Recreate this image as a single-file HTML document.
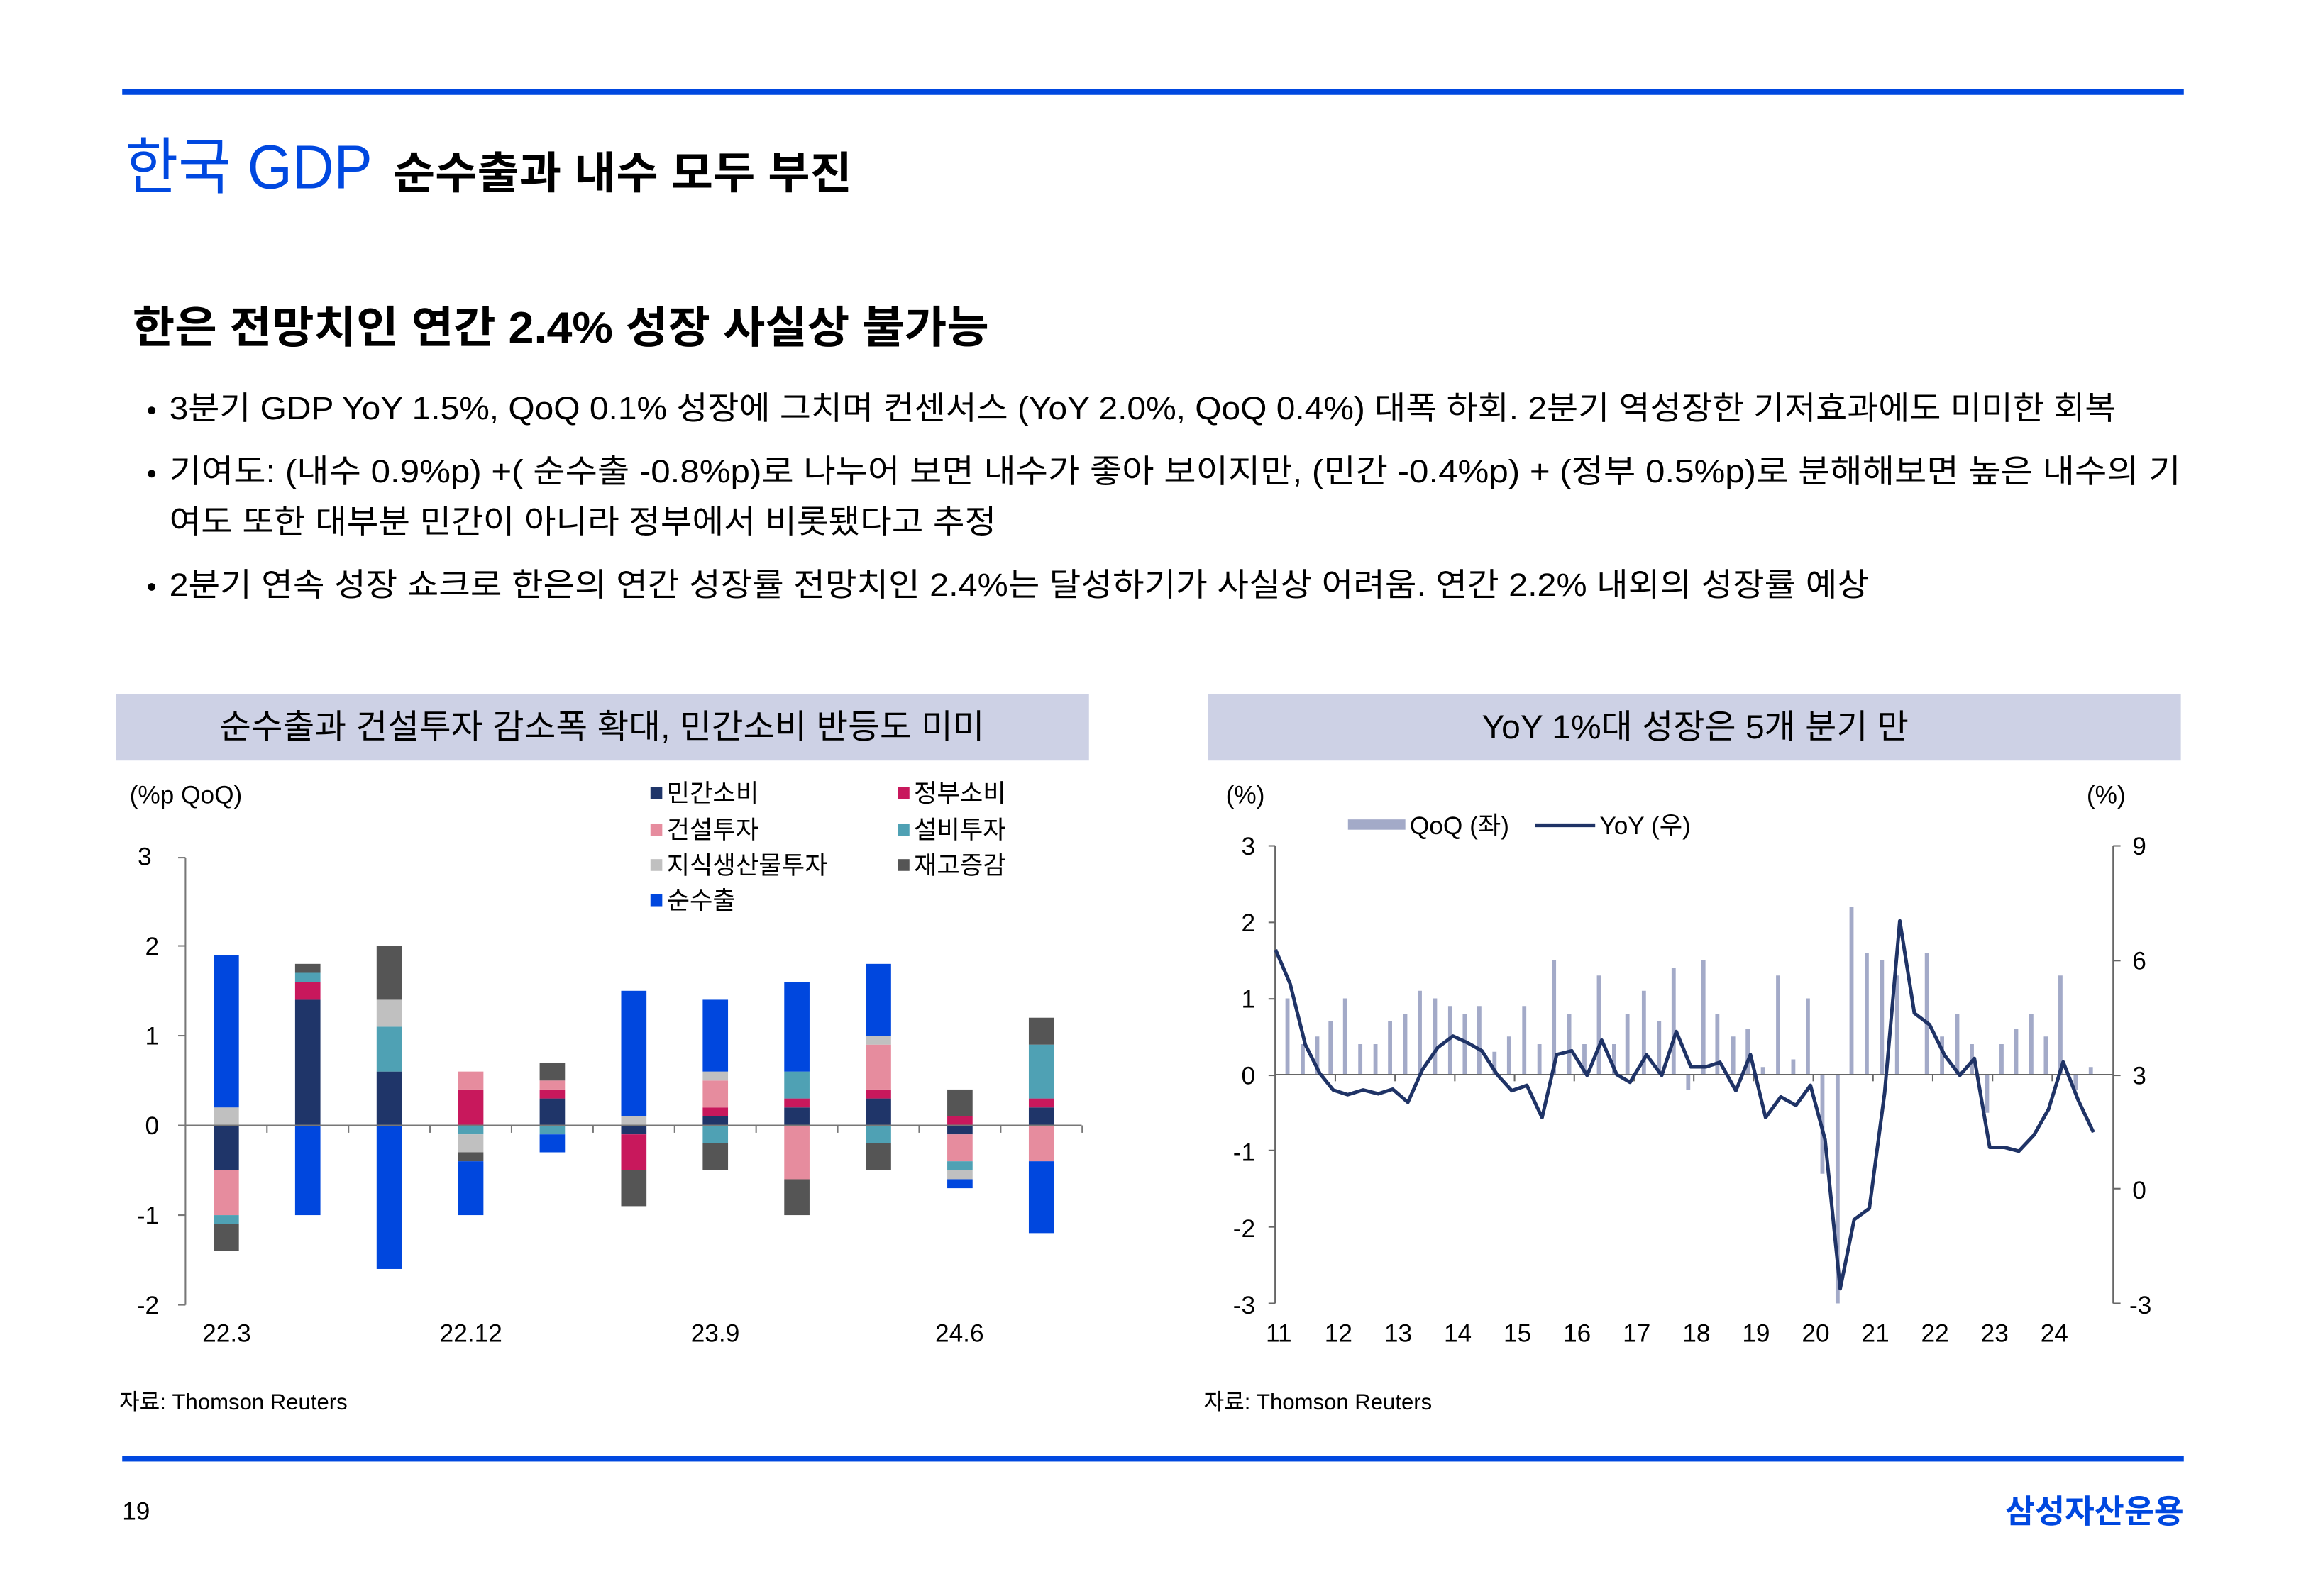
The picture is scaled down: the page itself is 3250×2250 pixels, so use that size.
<!DOCTYPE html>
<html><head><meta charset="utf-8"><style>
html,body{margin:0;padding:0;background:#fff;}
svg{display:block;}
text{font-family:"Liberation Sans","Noto Sans CJK KR",sans-serif;}
</style></head><body>
<svg id="s" width="3250" height="2250" viewBox="0 0 1567 1084.9" xmlns="http://www.w3.org/2000/svg">
<rect x="0" y="0" width="1567" height="1084.9" fill="#fff"/>
<rect x="83" y="60.5" width="1401" height="4" fill="#0048e0"/>
<text x="85" y="128" font-size="42" fill="#0048e0" textLength="168" lengthAdjust="spacingAndGlyphs">한국 GDP</text>
<text x="267" y="128" font-size="30" font-weight="bold" fill="#000" textLength="312" lengthAdjust="spacingAndGlyphs">순수출과 내수 모두 부진</text>
<text x="90" y="233" font-size="30" font-weight="bold" fill="#000" textLength="582" lengthAdjust="spacingAndGlyphs">한은 전망치인 연간 2.4% 성장 사실상 불가능</text>
<g font-size="22" fill="#000">
<circle cx="103" cy="279" r="2.6"/>
<text x="115" y="285" textLength="1323" lengthAdjust="spacingAndGlyphs">3분기 GDP YoY 1.5%, QoQ 0.1% 성장에 그치며 컨센서스 (YoY 2.0%, QoQ 0.4%) 대폭 하회. 2분기 역성장한 기저효과에도 미미한 회복</text>
<circle cx="103" cy="322" r="2.6"/>
<text x="115" y="328" textLength="1367" lengthAdjust="spacingAndGlyphs">기여도: (내수 0.9%p) +( 순수출 -0.8%p)로 나누어 보면 내수가 좋아 보이지만, (민간 -0.4%p) + (정부 0.5%p)로 분해해보면 높은 내수의 기</text>
<text x="115" y="362" textLength="562" lengthAdjust="spacingAndGlyphs">여도 또한 대부분 민간이 아니라 정부에서 비롯됐다고 추정</text>
<circle cx="103" cy="399" r="2.6"/>
<text x="115" y="405" textLength="1155" lengthAdjust="spacingAndGlyphs">2분기 연속 성장 쇼크로 한은의 연간 성장률 전망치인 2.4%는 달성하기가 사실상 어려움. 연간 2.2% 내외의 성장률 예상</text>
</g>
<rect x="79" y="472" width="661" height="45" fill="#cdd1e5"/>
<rect x="821" y="472" width="661" height="45" fill="#cdd1e5"/>
<text x="149" y="502" font-size="23" textLength="520" lengthAdjust="spacingAndGlyphs">순수출과 건설투자 감소폭 확대, 민간소비 반등도 미미</text>
<text x="1007" y="502" font-size="23" textLength="290" lengthAdjust="spacingAndGlyphs">YoY 1%대 성장은 5개 분기 만</text>

<g font-size="17" fill="#000">
<text x="88" y="546">(%p QoQ)</text>
<text x="103" y="588" text-anchor="end">3</text>
<text x="108" y="649" text-anchor="end">2</text>
<text x="108" y="710" text-anchor="end">1</text>
<text x="108" y="771" text-anchor="end">0</text>
<text x="108" y="832" text-anchor="end">-1</text>
<text x="108" y="893" text-anchor="end">-2</text>
<text x="154" y="912" text-anchor="middle">22.3</text>
<text x="320" y="912" text-anchor="middle">22.12</text>
<text x="486" y="912" text-anchor="middle">23.9</text>
<text x="652" y="912" text-anchor="middle">24.6</text>
</g>
<g font-size="17">
<rect x="442" y="535" width="8" height="8" fill="#1f3569"/><text x="453" y="545">민간소비</text>
<rect x="610" y="535" width="8" height="8" fill="#c8185c"/><text x="621" y="545">정부소비</text>
<rect x="442" y="560" width="8" height="8" fill="#e68c9e"/><text x="453" y="570">건설투자</text>
<rect x="610" y="560" width="8" height="8" fill="#4fa1b4"/><text x="621" y="570">설비투자</text>
<rect x="442" y="584" width="8" height="8" fill="#c0c0c0"/><text x="453" y="594">지식생산물투자</text>
<rect x="610" y="584" width="8" height="8" fill="#555"/><text x="621" y="594">재고증감</text>
<rect x="442" y="608" width="8" height="8" fill="#0047de"/><text x="453" y="618">순수출</text>
</g>
<g id="L"></g>
<g font-size="17" fill="#000">
<text x="833" y="546">(%)</text>
<text x="1418" y="546">(%)</text>
<text x="853" y="581" text-anchor="end">3</text>
<text x="853" y="633" text-anchor="end">2</text>
<text x="853" y="685" text-anchor="end">1</text>
<text x="853" y="737" text-anchor="end">0</text>
<text x="853" y="789" text-anchor="end">-1</text>
<text x="853" y="841" text-anchor="end">-2</text>
<text x="853" y="893" text-anchor="end">-3</text>
<text x="1449" y="581">9</text>
<text x="1449" y="659">6</text>
<text x="1449" y="737">3</text>
<text x="1449" y="815">0</text>
<text x="1447" y="893">-3</text>
</g>
<rect x="916" y="557" width="39" height="7" fill="#a3aac8"/>
<text x="958" y="567" font-size="17">QoQ (좌)</text>
<line x1="1043" y1="561" x2="1084" y2="561" stroke="#1f3366" stroke-width="2.5"/>
<text x="1087" y="567" font-size="17">YoY (우)</text>
<g id="R"></g>
<g font-size="17" text-anchor="middle" id="RX"></g>

<g font-size="15">
<text x="81" y="958">자료:  Thomson Reuters</text>
<text x="818" y="958">자료:  Thomson Reuters</text>
</g>
<rect x="83" y="989.5" width="1401" height="4" fill="#0048e0"/>
<text x="83" y="1033" font-size="17">19</text>
<text x="1484" y="1035" font-size="22" font-weight="bold" fill="#0048e0" text-anchor="end">삼성자산운용</text>
</svg>
<script>
var NS="http://www.w3.org/2000/svg";
function el(p,t,a){var e=document.createElementNS(NS,t);for(var k in a)e.setAttribute(k,a[k]);p.appendChild(e);return e;}
var L=document.getElementById("L");
el(L,"line",{x1:126,y1:583,x2:126,y2:887,stroke:"#777","stroke-width":1});
[583,643,704,765,826,887].forEach(function(y){el(L,"line",{x1:121,y1:y,x2:126,y2:y,stroke:"#777","stroke-width":1});});
var C={p:"#1f3569",g:"#c8185c",c:"#e68c9e",e:"#4fa1b4",k:"#c0c0c0",i:"#555",n:"#0047de"};
var bars=[
[["k",0,.2],["n",.2,1.9],["p",0,-.5],["c",-.5,-1],["e",-1,-1.1],["i",-1.1,-1.4]],
[["p",0,1.4],["g",1.4,1.6],["e",1.6,1.7],["i",1.7,1.8],["n",0,-1]],
[["p",0,.6],["e",.6,1.1],["k",1.1,1.4],["i",1.4,2],["n",0,-1.6]],
[["g",0,.4],["c",.4,.6],["e",0,-.1],["k",-.1,-.3],["i",-.3,-.4],["n",-.4,-1]],
[["p",0,.3],["g",.3,.4],["c",.4,.5],["i",.5,.7],["e",0,-.1],["n",-.1,-.3]],
[["k",0,.1],["n",.1,1.5],["p",0,-.1],["g",-.1,-.5],["i",-.5,-.9]],
[["p",0,.1],["g",.1,.2],["c",.2,.5],["k",.5,.6],["n",.6,1.4],["e",0,-.2],["i",-.2,-.5]],
[["p",0,.2],["g",.2,.3],["e",.3,.6],["n",.6,1.6],["c",0,-.6],["i",-.6,-1]],
[["p",0,.3],["g",.3,.4],["c",.4,.9],["k",.9,1],["n",1,1.8],["e",0,-.2],["i",-.2,-.5]],
[["g",0,.1],["i",.1,.4],["p",0,-.1],["c",-.1,-.4],["e",-.4,-.5],["k",-.5,-.6],["n",-.6,-.7]],
[["p",0,.2],["g",.2,.3],["e",.3,.9],["i",.9,1.2],["c",0,-.4],["n",-.4,-1.2]]];
function Y(v){return 765-v*61;}
bars.forEach(function(b,i){var cx=153.7+55.4*i;b.forEach(function(s){var y1=Y(Math.max(s[1],s[2])),y2=Y(Math.min(s[1],s[2]));el(L,"rect",{x:cx-8.6,y:y1,width:17.2,height:y2-y1,fill:C[s[0]]});});});
el(L,"line",{x1:126,y1:765,x2:735,y2:765,stroke:"#777","stroke-width":1});
for(var i=1;i<=11;i++){var x=126+55.4*i;el(L,"line",{x1:x,y1:765,x2:x,y2:770,stroke:"#777","stroke-width":1});}
var R=document.getElementById("R");
function RX(z){return 866.8+(z-108)*0.4302;}
function RY(z){return 575+(z-208)*0.2613;}
var pts=[[108,478],[131,567],[155,725],[178,800],[199,843],[222,855],[246,843],[270,853],[293,841],[317,875],[340,790],[364,733],[388,703],[411,720],[434,741],[458,803],[481,845],[505,831],[529,915],[552,751],[576,741],[600,805],[623,713],[647,803],[668,823],[694,752],[718,805],[741,691],[764,783],[788,783],[810,771],[835,845],[858,751],[882,915],[906,861],[930,883],[953,831],[976,972],[1000,1360],[1022,1180],[1046,1151],[1070,850],[1094,403],[1117,643],[1141,673],[1165,753],[1189,805],[1212,761],[1236,992],[1259,992],[1282,1002],[1306,960],[1329,893],[1352,770],[1376,870],[1400,953]];
var q=[null,1,.4,.5,.7,1,.4,.4,.7,.8,1.1,1,.9,.8,.9,.3,.5,.9,.4,1.5,.8,.4,1.3,.4,.8,1.1,.7,1.4,-.2,1.5,.8,.5,.6,.1,1.3,.2,1,-1.3,-3,2.2,1.6,1.5,1.3,null,1.6,.5,.8,.4,-.5,.4,.6,.8,.5,1.3,-.2,.1];
q.forEach(function(v,i){if(v==null)return;var x=RX(pts[i][0])-1.8;var y0=730.5,y=730.5-v*51.83;el(R,"rect",{x:x-1.4,y:Math.min(y,y0),width:2.8,height:Math.abs(y-y0),fill:"#a3aac8"});});
el(R,"line",{x1:866.5,y1:575,x2:866.5,y2:886,stroke:"#666","stroke-width":1});
el(R,"line",{x1:1436,y1:575,x2:1436,y2:886,stroke:"#666","stroke-width":1});
[575,627,679,731,782,834,886].forEach(function(y){el(R,"line",{x1:862,y1:y,x2:866.5,y2:y,stroke:"#666","stroke-width":1});});
[575,653,731,808,886].forEach(function(y){el(R,"line",{x1:1436,y1:y,x2:1441,y2:y,stroke:"#666","stroke-width":1});});
el(R,"line",{x1:866.5,y1:730.5,x2:1436,y2:730.5,stroke:"#666","stroke-width":1});
var RXg=document.getElementById("RX");
for(var k=0;k<14;k++){var xl=869+k*40.54;var xt=866.8+k*40.6;if(k>0)el(R,"line",{x1:xt,y1:730.5,x2:xt,y2:735,stroke:"#666","stroke-width":1});var t=el(RXg,"text",{x:xl,y:912});t.textContent=String(11+k);}
el(R,"polyline",{points:pts.map(function(p){return RX(p[0]).toFixed(1)+","+RY(p[1]).toFixed(1);}).join(" "),fill:"none",stroke:"#1f3366","stroke-width":2.4,"stroke-linejoin":"round"});
</script>
</body></html>
